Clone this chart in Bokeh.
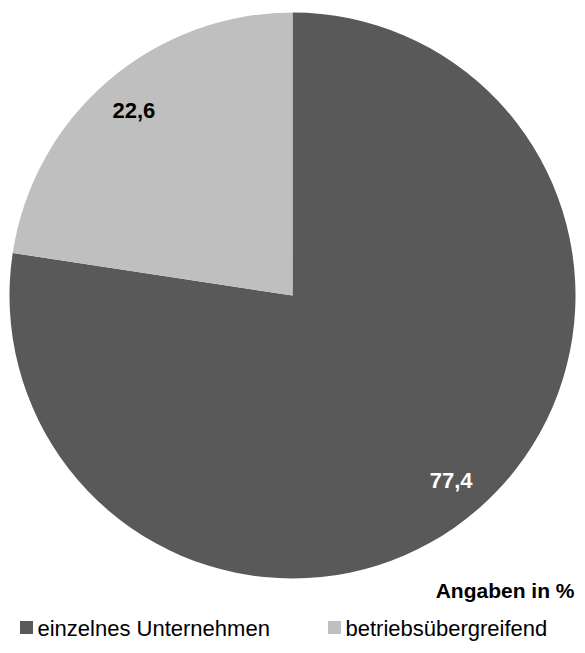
import math
from bokeh.plotting import figure
from bokeh.models import Range1d, ColumnDataSource
from bokeh.core.properties import value
from bokeh.embed import file_html
from bokeh.resources import INLINE

# ---- data ----
categories = ["einzelnes Unternehmen", "betriebsübergreifend"]
values = [77.4, 22.6]
labels = ["77,4", "22,6"]
colors = ["#595959", "#BFBFBF"]
label_colors = ["#FFFFFF", "#000000"]
note = "Angaben in %"

W, H = 577, 645
FONT = "Liberation Sans"

p = figure(width=W, height=H, output_backend="svg", toolbar_location=None,
           x_range=Range1d(0, W), y_range=Range1d(0, H),
           min_border=0, min_border_left=0, min_border_right=0,
           min_border_top=0, min_border_bottom=0)
p.axis.visible = False
p.grid.visible = False
p.outline_line_color = None
p.background_fill_color = "white"
p.border_fill_color = "white"

def sy(y):
    return H - y

cx, cy, r = 292.0, sy(295.0), 283.0

# slices: the small slice starts at 12 o'clock and runs counter-clockwise
total = sum(values)
small_span = values[1] / total * 2 * math.pi
start_small = math.pi / 2
end_small = start_small + small_span
starts = [end_small, start_small]
ends = [start_small + 2 * math.pi, end_small]

src = ColumnDataSource(dict(start=starts, end=ends, color=colors))
p.wedge(x=cx, y=cy, radius=r, start_angle="start", end_angle="end",
        fill_color="color", line_color=None, source=src)

# data labels
lx, ly = [], []
for s, e in zip(starts, ends):
    m = (s + e) / 2
    lx.append(cx + 0.86 * r * math.cos(m))
    ly.append(cy + 0.86 * r * math.sin(m))
lsrc = ColumnDataSource(dict(x=lx, y=ly, t=labels, c=label_colors))
p.text(x="x", y="y", text="t", text_color="c", source=lsrc,
       text_font=value(FONT), text_font_size="22px", text_font_style="bold",
       text_align="center", text_baseline="middle")

# note
p.text(x=[574], y=[sy(590)], text=[note], text_font=value(FONT),
       text_font_size="21px", text_font_style="bold", text_color="#000000",
       text_align="right", text_baseline="middle")

# legend
leg_x = [26, 334]
leg_y = [sy(627), sy(627)]
p.scatter(x=leg_x, y=leg_y, marker="square", size=13, fill_color=colors,
          line_color=None)
p.text(x=[x + 11 for x in leg_x], y=[sy(628)] * 2, text=categories,
       text_font=value(FONT), text_font_size="22px", text_color="#000000",
       text_align="left", text_baseline="middle")

open("out.html", "w").write(file_html(p, INLINE))
